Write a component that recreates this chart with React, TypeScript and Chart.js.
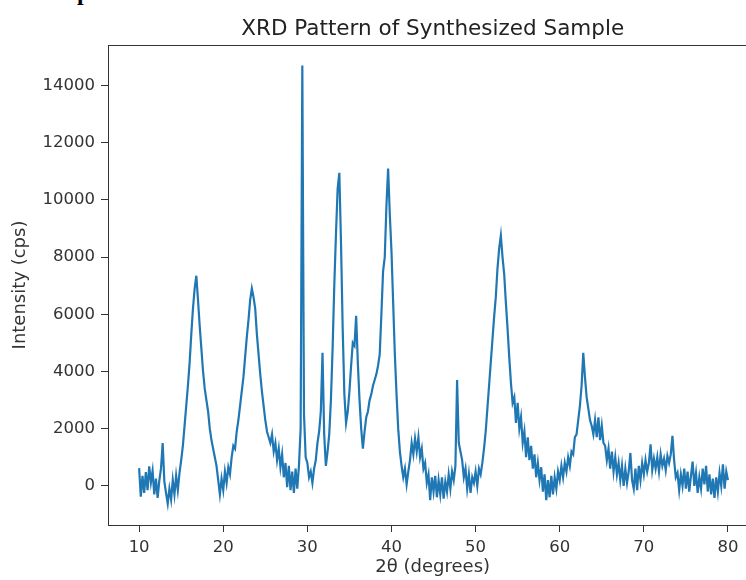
import React, { useEffect, useRef } from "react";
import { Chart, registerables } from "chart.js";

Chart.register(...registerables);

const chartTitle = "XRD Pattern of Synthesized Sample";
const xAxisLabel = "2θ (degrees)";
const yAxisLabel = "Intensity (cps)";
const headingFragment = "p";

// 2θ sampling grid of the scan
const angleStart = 10;
const angleStep = 0.2;

const xTickValues = [10, 20, 30, 40, 50, 60, 70, 80];
const yTickValues = [0, 2000, 4000, 6000, 8000, 10000, 12000, 14000];

// Intensity (cps), 0.2° apart
const intensity10to20 = [
  620, -380, 350, -250, 480, -150, 680, 120, 520, -300,
  250, -420, 180, 600, 1500, 150, -250, -620, -100, -480,
  200, -300, 350, -150, 450, 900, 1400, 2100, 2800, 3500,
  4300, 5300, 6200, 6900, 7350, 6500, 5600, 4800, 4000, 3400,
  3000, 2600, 2000, 1600, 1300, 1000, 700, 200, -300, 250,
];
const intensity20to30 = [
  -150, 500, 100, 650, 400, 1000, 1400, 1300, 1900, 2300,
  2800, 3300, 3800, 4500, 5200, 5800, 6500, 6900, 6600, 6200,
  5300, 4600, 3900, 3300, 2800, 2300, 1900, 1700, 1500, 1800,
  1200, 1500, 900, 1300, 650, 1100, 300, 800, -50, 700,
  -150, 500, -250, 600, -100, 700, 2000, 14700, 2500, 1000,
];
const intensity30to40 = [
  800, 300, 500, 100, 600, 900, 1500, 1900, 2600, 4650,
  1800, 700, 1200, 1800, 3000, 4800, 7000, 8800, 10400, 10950,
  8500, 5500, 3200, 2200, 2600, 3300, 4200, 5000, 4900, 5950,
  4300, 3000, 2000, 1300, 1900, 2400, 2600, 3000, 3200, 3500,
  3700, 3900, 4200, 4600, 6000, 7500, 8000, 9800, 11100, 9500,
];
const intensity40to50 = [
  8200, 6400, 4600, 3200, 2000, 1200, 700, 300, 600, 50,
  500, 900, 1500, 1100, 1650, 1200, 1700, 1000, 1300, 600,
  800, 100, 400, -500, 300, -200, 350, -400, 200, -300,
  300, -450, 150, -200, 400, -100, 500, 200, 700, 3700,
  1500, 1200, 900, 300, 600, -100, 400, -250, 300, 100,
];
const intensity50to60 = [
  500, 0, 600, 400, 800, 1300, 1900, 2700, 3500, 4300,
  5100, 5900, 6600, 7600, 8300, 8750, 8000, 7400, 6400, 5500,
  4500, 3600, 2900, 3100, 2200, 2900, 2000, 2400, 1500, 1900,
  1000, 1700, 900, 1400, 600, 1100, 300, 800, 200, 650,
  -200, 400, -500, 200, -400, 350, -300, 300, -100, 500,
];
const intensity60to70 = [
  200, 700, 300, 800, 500, 1000, 700, 1200, 1100, 1700,
  1800, 2300, 2800, 3500, 4650, 3800, 3100, 2700, 2300, 2100,
  1800, 2300, 1700, 2400, 1600, 2100, 1500, 1400, 900, 1300,
  600, 1200, 500, 1000, 400, 800, 200, 700, 0, 600,
  100, 500, 1150, 200, -100, 600, -150, 700, 200, 800,
];
const intensity70to80 = [
  400, 900, 500, 800, 1450, 550, 950, 600, 1000, 500,
  1100, 700, 950, 550, 1050, 800, 1100, 1750, 900, 300,
  450, -150, 400, 0, 600, -100, 500, -200, 350, 850,
  0, 450, -250, 300, -100, 600, 50, 700, -200, 400,
  -300, 250, -420, 300, -200, 450, 0, 750, -100, 500,
  200,
];

const lineColor = "#1f77b4";
const inkColor = "#333333";

export default function App() {
  const canvasRef = useRef<HTMLCanvasElement>(null);

  useEffect(() => {
    const intensities = [
      ...intensity10to20,
      ...intensity20to30,
      ...intensity30to40,
      ...intensity40to50,
      ...intensity50to60,
      ...intensity60to70,
      ...intensity70to80,
    ];
    const points = intensities.map((y, i) => ({
      x: Number((angleStart + i * angleStep).toFixed(1)),
      y,
    }));

    const framePlugin = {
      id: "frame",
      afterDatasetsDraw(chart: any) {
        const { ctx, chartArea: a } = chart;
        ctx.save();
        ctx.strokeStyle = inkColor;
        ctx.lineWidth = 1;
        ctx.strokeRect(
          Math.round(a.left) + 0.5,
          Math.round(a.top) + 0.5,
          Math.round(a.right - a.left),
          Math.round(a.bottom - a.top)
        );
        ctx.restore();
      },
    };

    const tickFont = { family: "'DejaVu Sans', sans-serif", size: 16.5 };
    const labelFont = { family: "'DejaVu Sans', sans-serif", size: 18 };

    const chart = new Chart(canvasRef.current as HTMLCanvasElement, {
      type: "line",
      data: {
        datasets: [
          {
            data: points,
            borderColor: lineColor,
            backgroundColor: lineColor,
            borderWidth: 2.2,
            pointRadius: 0,
            tension: 0,
            fill: false,
          },
        ],
      },
      options: {
        responsive: false,
        animation: false,
        events: [],
        layout: { padding: { left: 0, right: 12.6, top: 0, bottom: 0 } },
        plugins: {
          legend: { display: false },
          tooltip: { enabled: false },
          title: {
            display: true,
            text: chartTitle,
            fullSize: false,
            color: "#222222",
            font: { family: "'DejaVu Sans', sans-serif", size: 21.5, weight: "normal" },
            padding: { top: 16.7, bottom: 2.5 },
          },
        },
        scales: {
          x: {
            type: "linear",
            min: 6.3,
            max: 83.5,
            afterFit(scale: any) {
              scale.height = 55;
            },
            afterBuildTicks(scale: any) {
              scale.ticks = xTickValues.map((v) => ({ value: v }));
            },
            ticks: {
              color: inkColor,
              font: tickFont,
              padding: 6,
              maxRotation: 0,
              autoSkip: false,
              callback: (v: any) => String(v),
            },
            grid: {
              drawOnChartArea: false,
              drawTicks: true,
              tickLength: 7,
              color: inkColor,
            },
            border: { display: false },
            title: {
              display: true,
              text: xAxisLabel,
              color: inkColor,
              font: labelFont,
              padding: { top: 0, bottom: 1.4 },
            },
          },
          y: {
            type: "linear",
            min: -1370,
            max: 15420,
            afterFit(scale: any) {
              scale.width = 108;
            },
            afterBuildTicks(scale: any) {
              scale.ticks = yTickValues.map((v) => ({ value: v }));
            },
            ticks: {
              color: inkColor,
              font: tickFont,
              padding: 6,
              autoSkip: false,
              callback: (v: any) => String(v),
            },
            grid: {
              drawOnChartArea: false,
              drawTicks: true,
              tickLength: 7,
              color: inkColor,
            },
            border: { display: false },
            title: {
              display: true,
              text: yAxisLabel,
              color: inkColor,
              font: labelFont,
              padding: { top: 9.2, bottom: 0 },
            },
          },
        },
      },
      plugins: [framePlugin],
    } as any);

    return () => chart.destroy();
  }, []);

  return (
    <div
      style={{
        position: "absolute",
        left: 0,
        top: 0,
        width: 746,
        height: 580,
        overflow: "hidden",
        background: "#ffffff",
      }}
    >
      <span
        style={{
          position: "absolute",
          left: 77,
          top: -20,
          font: "bold 24px 'Liberation Serif', serif",
          lineHeight: "24px",
          color: "#000000",
        }}
      >
        {headingFragment}
      </span>
      <canvas
        ref={canvasRef}
        width={770}
        height={580}
        style={{ position: "absolute", left: 0, top: 0, display: "block" }}
      />
    </div>
  );
}
